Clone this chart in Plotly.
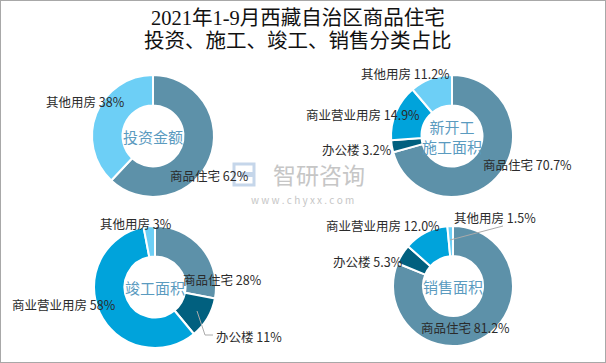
import plotly.graph_objects as go

W, H = 606, 363

# ---- data ----
title_lines = ["2021年1-9月西藏自治区商品住宅", "投资、施工、竣工、销售分类占比"]

invest_names = ["商品住宅", "其他用房"]
invest_values = [62, 38]
invest_labels = ["62%", "38%"]

newstart_names = ["商品住宅", "办公楼", "商业营业用房", "其他用房"]
newstart_values = [70.7, 3.2, 14.9, 11.2]
newstart_labels = ["70.7%", "3.2%", "14.9%", "11.2%"]

complete_names = ["商品住宅", "办公楼", "商业营业用房", "其他用房"]
complete_values = [28, 11, 58, 3]
complete_labels = ["28%", "11%", "58%", "3%"]

sales_names = ["商品住宅", "办公楼", "商业营业用房", "其他用房"]
sales_values = [81.2, 5.3, 12.0, 1.5]
sales_labels = ["81.2%", "5.3%", "12.0%", "1.5%"]

center_titles = ["投资金额", "新开工<br>施工面积", "竣工面积", "销售面积"]

# ---- styles ----
color_map = {
    "商品住宅": "#5d91a9",
    "办公楼": "#01607f",
    "商业营业用房": "#00a3db",
    "其他用房": "#6dcff6",
}
FONT = "Noto Sans CJK SC, sans-serif"

pies = [
    dict(names=invest_names, values=invest_values, labels=invest_labels,
         center=(153, 136), r=61,
         label_pos=[(209, 175), (85, 102)]),
    dict(names=newstart_names, values=newstart_values, labels=newstart_labels,
         center=(452, 136), r=61,
         label_pos=[(527, 164), (357, 150), (363, 114), (405, 73)]),
    dict(names=complete_names, values=complete_values, labels=complete_labels,
         center=(155, 287), r=61,
         label_pos=[(222, 279), (249, 336), (64, 304), (136, 223)]),
    dict(names=sales_names, values=sales_values, labels=sales_labels,
         center=(453, 286), r=60,
         label_pos=[(465, 327), (368, 261), (383, 225), (495, 217)]),
]

fig = go.Figure()
annotations = []
for i, p in enumerate(pies):
    cx, cy = p["center"]
    r = p["r"]
    fig.add_trace(go.Pie(
        labels=p["names"], values=p["values"], sort=False,
        direction="clockwise", rotation=0, hole=0.5,
        marker=dict(colors=[color_map[n] for n in p["names"]],
                    line=dict(color="white", width=2)),
        textinfo="none", hoverinfo="label+percent", showlegend=False,
        domain=dict(x=[(cx - r) / W, (cx + r) / W],
                    y=[1 - (cy + r) / H, 1 - (cy - r) / H]),
    ))
    for name, lab, (lx, ly) in zip(p["names"], p["labels"], p["label_pos"]):
        annotations.append(dict(
            x=lx / W, y=1 - ly / H, xref="paper", yref="paper",
            text=f"{name} {lab}", showarrow=False,
            xanchor="center", yanchor="middle",
            font=dict(family=FONT, size=12.5, color="#2b2b2b")))
    annotations.append(dict(
        x=cx / W, y=1 - cy / H, xref="paper", yref="paper",
        text=center_titles[i], showarrow=False,
        xanchor="center", yanchor="middle",
        font=dict(family=FONT, size=15, color="#5b9bbf")))

# title
for t, ty in zip(title_lines, [18, 41]):
    annotations.append(dict(
        x=298 / W, y=1 - ty / H, xref="paper", yref="paper",
        text=t, showarrow=False,
        xanchor="center", yanchor="middle",
        font=dict(family="Liberation Serif, Noto Sans CJK SC, serif", size=20.5, color="#111111")))

# watermark
annotations.append(dict(x=319 / W, y=1 - 174 / H, xref="paper", yref="paper",
                        text="智研咨询", showarrow=False, xanchor="center", yanchor="middle",
                        font=dict(family=FONT, size=23, color="#c6c6c6")))
annotations.append(dict(x=302 / W, y=1 - 199 / H, xref="paper", yref="paper",
                        text="w w w . c h y x x . c o m", showarrow=False,
                        xanchor="center", yanchor="middle",
                        font=dict(family=FONT, size=10, color="#c6c6c6")))


def px(x):
    return x / W


def py(y):
    return 1 - y / H


shapes = [
    # frame
    dict(type="rect", xref="paper", yref="paper", x0=0, y0=0, x1=1, y1=1,
         line=dict(color="#a8a8a8", width=2)),
    # watermark logo
    dict(type="rect", xref="paper", yref="paper", x0=px(234), x1=px(254),
         y0=py(185), y1=py(164), line=dict(color="#c5d6ea", width=3)),
    dict(type="rect", xref="paper", yref="paper", x0=px(240), x1=px(254),
         y0=py(177), y1=py(172), fillcolor="#c5d6ea", line=dict(width=0)),
    # leader lines
    dict(type="path", xref="paper", yref="paper",
         path=f"M {px(197)},{py(311)} L {px(205)},{py(335)} L {px(213)},{py(335)}",
         line=dict(color="#aaaaaa", width=1)),
    dict(type="line", xref="paper", yref="paper",
         x0=px(450), y0=py(240), x1=px(503), y1=py(226),
         line=dict(color="#aaaaaa", width=1)),
]

fig.update_layout(
    width=W, height=H, margin=dict(l=0, r=0, t=0, b=0),
    paper_bgcolor="white", plot_bgcolor="white",
    annotations=annotations, shapes=shapes,
)

fig.write_html("out.html", config={"displayModeBar": False},
               post_script="document.body.style.margin='0';document.body.style.overflow='hidden';")
